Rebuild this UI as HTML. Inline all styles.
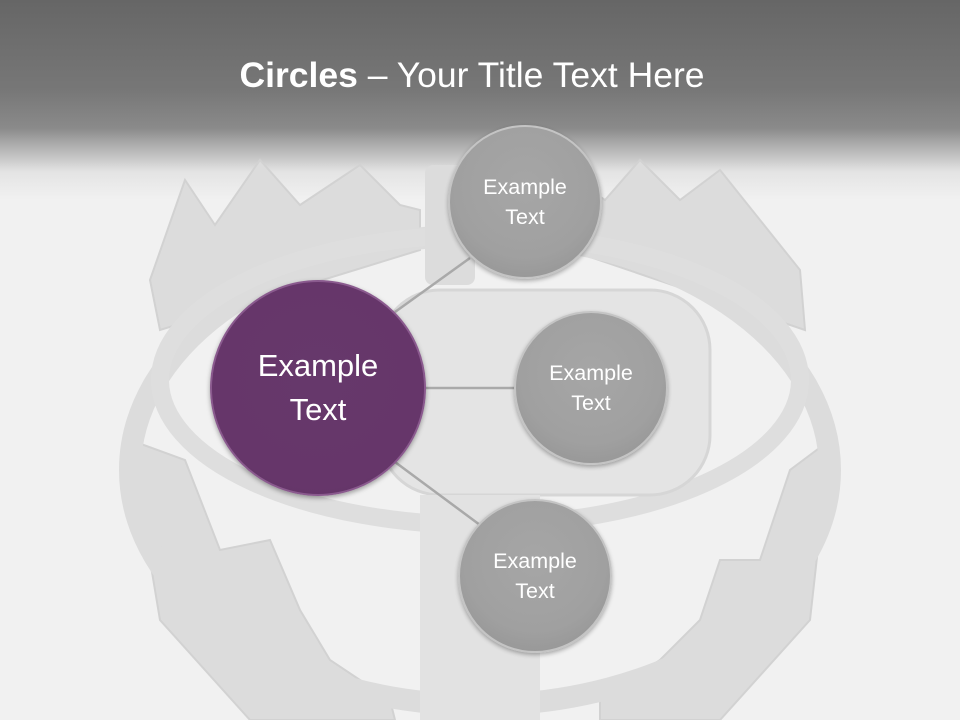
<!DOCTYPE html>
<html><head><style>
html,body{margin:0;padding:0}
body{width:960px;height:720px;position:relative;overflow:hidden;background:#f1f1f1;font-family:"Liberation Sans",sans-serif}
.hdr{position:absolute;left:0;top:0;width:960px;height:200px;background:linear-gradient(#666 0%,#777 45%,#8a8a8a 64%,#e4e4e4 86%,#f1f1f1 100%)}
.title{position:absolute;left:0;width:944px;top:55px;text-align:center;color:#fff;font-size:35.5px}
.c{position:absolute;border-radius:50%;color:#fff;display:flex;align-items:center;justify-content:center;text-align:center;box-sizing:border-box}
.g{width:154px;height:154px;background:radial-gradient(circle at 50% 40%,#a6a6a6 0%,#a0a0a0 60%,#8f8f8f 100%);border:2px solid #c4c4c4;box-shadow:0 2px 4px rgba(0,0,0,.3);font-size:21.5px;line-height:30px}
.p{width:216px;height:216px;background:radial-gradient(circle at 50% 45%,#66386b 0%,#66366a 70%,#5a2f5e 100%);border:2px solid #8a5a8e;box-shadow:0 2px 5px rgba(0,0,0,.35);font-size:31px;line-height:44px}
</style></head><body>
<div class="hdr"></div>
<svg style="position:absolute;left:0;top:0" width="960" height="720">
<g fill="#dcdcdc" stroke="#d2d2d2" stroke-width="2">
<polygon points="150,280 185,180 215,225 260,160 300,205 360,165 400,205 420,210 420,250 160,330"/>
<polygon points="540,240 560,170 605,200 640,160 680,200 720,170 760,220 800,270 805,330"/>
<polygon points="130,440 185,460 220,550 270,540 300,610 330,660 390,700 395,720 250,720 160,620"/>
<polygon points="830,440 790,470 760,560 720,560 700,620 660,660 600,700 600,720 720,720 810,620"/>
</g>
<ellipse cx="480" cy="470" rx="350" ry="235" fill="none" stroke="#dcdcdc" stroke-width="22"/>
<ellipse cx="480" cy="380" rx="320" ry="145" fill="none" stroke="#dedede" stroke-width="18"/>
<rect x="380" y="290" width="330" height="205" rx="60" fill="#e4e4e4" stroke="#d6d6d6" stroke-width="3"/>
<rect x="420" y="495" width="120" height="225" fill="#e2e2e2"/>
<rect x="425" y="165" width="50" height="120" rx="8" fill="#dcdcdc"/>
<g stroke="#a9a9a9" stroke-width="2.5">
<line x1="395" y1="312" x2="470" y2="258"/>
<line x1="425" y1="388" x2="515" y2="388"/>
<line x1="395" y1="462" x2="480" y2="525"/>
</g>
</svg>
<div class="title"><b>Circles</b> – Your Title Text Here</div>
<div class="c g" style="left:448px;top:125px">Example<br>Text</div>
<div class="c g" style="left:514px;top:311px">Example<br>Text</div>
<div class="c g" style="left:458px;top:499px">Example<br>Text</div>
<div class="c p" style="left:210px;top:280px">Example<br>Text</div>
</body></html>
